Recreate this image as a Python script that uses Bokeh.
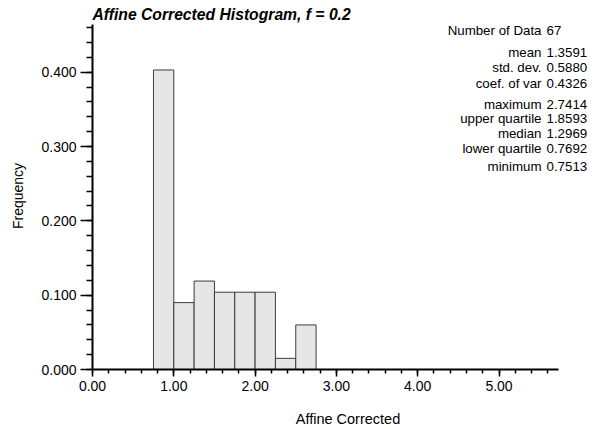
from bokeh.plotting import figure
from bokeh.models import (FixedTicker, PrintfTickFormatter, Range1d, Label, ColumnDataSource)
from bokeh.embed import file_html
from bokeh.resources import INLINE
import numpy as np

# ---- data ----
bin_left = [0.75, 1.00, 1.25, 1.50, 1.75, 2.00, 2.25, 2.50]
bin_right = [1.00, 1.25, 1.50, 1.75, 2.00, 2.25, 2.50, 2.75]
frequency = [0.403, 0.090, 0.119, 0.104, 0.104, 0.104, 0.015, 0.060]

x_major = [0, 1, 2, 3, 4, 5]
y_major = [0.0, 0.1, 0.2, 0.3, 0.4]

stat_names = ["Number of Data", "mean", "std. dev.", "coef. of var",
              "maximum", "upper quartile", "median", "lower quartile", "minimum"]
stat_values = ["67", "1.3591", "0.5880", "0.4326",
               "2.7414", "1.8593", "1.2969", "0.7692", "0.7513"]

title_text = "Affine Corrected Histogram, f = 0.2"
x_label = "Affine Corrected"
y_label = "Frequency"

FONT = "Liberation Sans"

# ---- layout constants (pixels in page) ----
LEFT, TOP, BOTTOM, W, H = 92, 22, 371, 603, 429
PX_X = 81.3     # pixels per x unit
PX_Y = 747.5    # pixels per y unit
X_AXIS_END = 5.73
Y_AXIS_END = 0.464

p = figure(width=W, height=H, output_backend="svg", toolbar_location=None,
           x_range=Range1d(0, (W - LEFT) / PX_X),
           y_range=Range1d(0, (BOTTOM - TOP) / PX_Y),
           min_border_left=LEFT, min_border_right=0, min_border_top=TOP,
           min_border_bottom=H - BOTTOM)
p.outline_line_color = None
p.xgrid.visible = False
p.ygrid.visible = False

p.title.text = title_text
p.title.text_font = FONT
p.title.text_font_style = "bold italic"
p.title.text_font_size = "15.7px"
p.title.text_color = "black"
p.title.align = "left"
p.title.standoff = 0

src = ColumnDataSource(dict(left=bin_left, right=bin_right, top=frequency,
                            bottom=[0] * len(frequency)))
p.quad(left="left", right="right", top="top", bottom="bottom", source=src,
       fill_color="#e6e6e6", line_color="#3c3c3c", line_width=1)

# axes
xa = p.xaxis[0]
xa.ticker = FixedTicker(ticks=x_major, minor_ticks=list(np.round(np.arange(0, 5.61, 0.2), 2)))
xa.formatter = PrintfTickFormatter(format="%.2f")
xa.axis_label = x_label
xa.bounds = (0, X_AXIS_END)
ya = p.yaxis[0]
ya.ticker = FixedTicker(ticks=y_major, minor_ticks=list(np.round(np.arange(0, 0.461, 0.02), 2)))
ya.formatter = PrintfTickFormatter(format="%.3f")
ya.axis_label = y_label
ya.bounds = (0, Y_AXIS_END)

for ax in (xa, ya):
    ax.axis_line_width = 2
    ax.axis_line_color = "black"
    ax.major_tick_line_color = "black"
    ax.minor_tick_line_color = "black"
    ax.major_tick_line_width = 1.5
    ax.minor_tick_line_width = 1.5
    ax.major_tick_in = 0
    ax.minor_tick_in = 0
    ax.major_label_text_font = FONT
    ax.major_label_text_font_size = "14px"
    ax.major_label_text_color = "black"
    ax.axis_label_text_font = FONT
    ax.axis_label_text_font_style = "normal"
    ax.axis_label_text_color = "black"

xa.axis_label_text_font_size = "14.5px"
ya.axis_label_text_font_size = "14px"
xa.major_tick_out = 7
xa.minor_tick_out = 4
xa.major_label_standoff = 4
xa.axis_label_standoff = 17
ya.major_tick_out = 12
ya.minor_tick_out = 6
ya.major_label_standoff = 4
ya.axis_label_standoff = 12

# statistics block (right-aligned names, left-aligned values)
row_px = [30, 52, 67, 83, 104, 119, 134, 149, 167]
for name, val, ry in zip(stat_names, stat_values, row_px):
    yv = (BOTTOM - ry) / PX_Y
    p.add_layout(Label(x=(541 - LEFT) / PX_X, y=yv, text=name, text_align="right",
                       text_baseline="middle", text_font=FONT, text_font_size="13.3px",
                       text_color="black"))
    p.add_layout(Label(x=(546 - LEFT) / PX_X, y=yv, text=val, text_align="left",
                       text_baseline="middle", text_font=FONT, text_font_size="13.3px",
                       text_color="black"))

open("out.html", "w").write(file_html(p, INLINE))
